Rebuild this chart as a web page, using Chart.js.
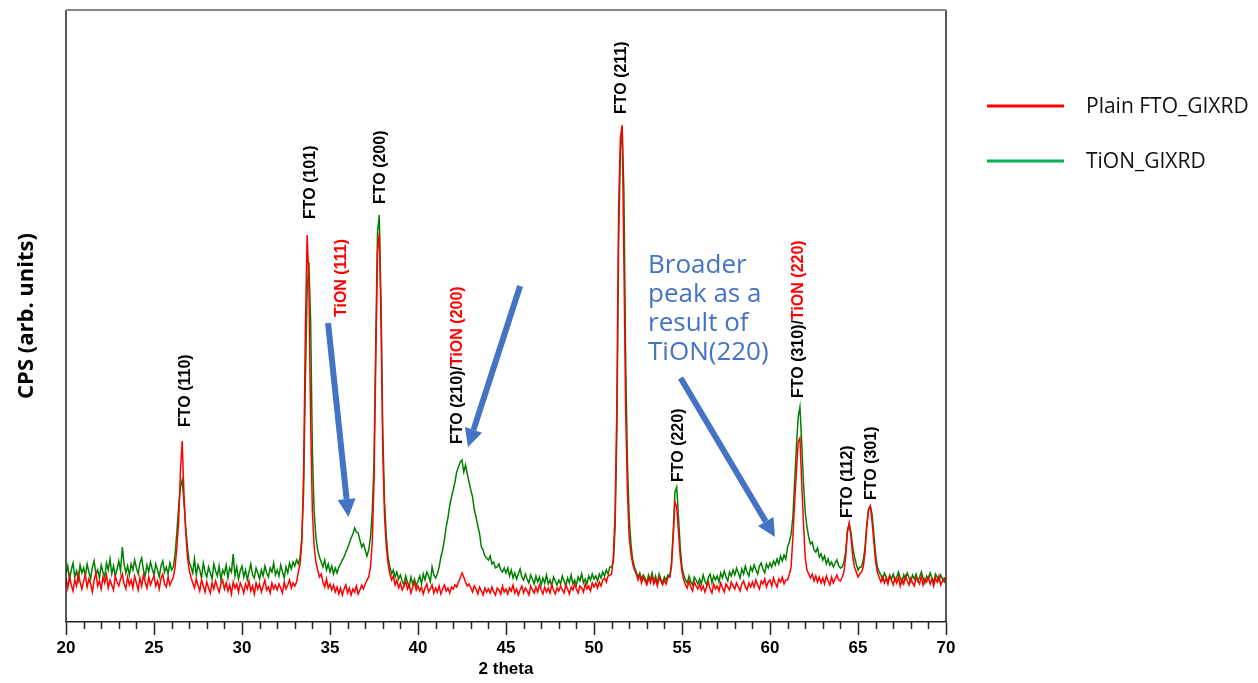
<!DOCTYPE html>
<html>
<head>
<meta charset="utf-8">
<script src="https://cdn.jsdelivr.net/npm/chart.js@4.4.1/dist/chart.umd.min.js"></script>
<style>
  html, body { margin: 0; padding: 0; background: #fff; }
  #xrd { display: block; }
</style>
</head>
<body>
<canvas id="xrd" width="1258" height="683"></canvas>
<script>
// 2 theta grid of the scan (0.1 deg step)
const twoTheta = Array.from({ length: 501 }, (_, i) => +(20 + i * 0.1).toFixed(1));

// intensities, one row per degree (arb. units)
const plainFto = [
  44, 34, 46, 37, 31, 42, 36, 48, 40, 33,
  41, 47, 35, 43, 38, 30, 42, 49, 36, 41,
  33, 45, 39, 47, 34, 42, 37, 32, 46, 40,
  36, 43, 48, 38, 33, 45, 37, 42, 34, 46,
  39, 32, 44, 36, 47, 40, 34, 45, 37, 42,
  46, 36, 41, 33, 44, 48, 38, 35, 45, 37,
  41, 45, 55, 75, 100, 150, 181, 130, 90, 65,
  52, 45, 39, 34, 43, 37, 31, 42, 36, 30,
  40, 34, 29, 39, 33, 41, 35, 30, 38, 42,
  33, 39, 31, 37, 28, 40, 34, 38, 30, 39,
  35, 29, 38, 33, 41, 31, 36, 28, 39, 33,
  38, 30, 36, 42, 32, 35, 29, 39, 33, 37,
  32, 38, 34, 29, 40, 33, 37, 42, 34, 39,
  36, 40, 50, 58, 80, 150, 290, 387, 340, 200,
  110, 75, 60, 52, 45, 48, 40, 35, 43, 34,
  38, 32, 37, 30, 35, 28, 34, 27, 33, 37,
  29, 34, 27, 33, 30, 36, 28, 32, 37, 33,
  38, 42, 45, 55, 80, 140, 260, 370, 389, 300,
  170, 105, 75, 58, 48, 42, 46, 37, 42, 34,
  39, 32, 36, 41, 33, 37, 29, 35, 40, 32,
  36, 31, 35, 28, 34, 38, 30, 33, 37, 29,
  34, 30, 36, 28, 33, 37, 31, 34, 29, 35,
  33, 37, 35, 40, 44, 49, 45, 40, 36, 38,
  34, 30, 36, 33, 28, 35, 31, 27, 34, 30,
  33, 29, 35, 30, 27, 34, 32, 28, 36, 30,
  33, 28, 34, 31, 37, 29, 33, 27, 32, 36,
  29, 34, 31, 27, 36, 32, 29, 35, 30, 37,
  32, 28, 35, 30, 34, 29, 37, 32, 28, 34,
  31, 36, 32, 29, 37, 33, 28, 35, 32, 38,
  33, 29, 36, 34, 30, 38, 33, 36, 31, 39,
  35, 39, 34, 40, 36, 42, 44, 40, 46, 47,
  48, 65, 110, 220, 415, 485, 497, 360, 210, 130,
  85, 68, 58, 52, 48, 42, 47, 39, 45, 41,
  37, 44, 39, 46, 38, 43, 36, 45, 41, 37,
  42, 38, 45, 45, 55, 85, 120, 115, 90, 65,
  50, 42, 37, 34, 41, 35, 31, 40, 36, 33,
  38, 32, 36, 30, 35, 40, 33, 29, 38, 33,
  36, 31, 39, 34, 30, 38, 35, 32, 40, 36,
  33, 39, 35, 31, 38, 41, 35, 32, 39, 35,
  40, 35, 42, 37, 33, 41, 38, 43, 35, 40,
  42, 36, 44, 39, 35, 43, 40, 45, 38, 42,
  42, 48, 55, 85, 120, 150, 180, 184, 140, 100,
  65, 52, 48, 44, 48, 41, 46, 40, 45, 39,
  44, 38, 46, 41, 37, 45, 39, 43, 47, 42,
  41, 45, 50, 65, 90, 99, 85, 65, 55, 50,
  45, 48, 50, 55, 70, 95, 112, 116, 100, 80,
  60, 50, 45, 40, 45, 39, 44, 38, 46, 42,
  37, 44, 39, 45, 36, 43, 38, 46, 41, 37,
  44, 39, 36, 45, 41, 38, 46, 37, 43, 40,
  45, 38, 43, 36, 44, 40, 46, 37, 41, 44,
  42
];

const tionFilm = [
  48, 56, 43, 52, 59, 45, 51, 42, 57, 49,
  54, 46, 58, 50, 43, 55, 61, 47, 52, 44,
  57, 50, 45, 59, 52, 63, 48, 56, 46, 53,
  61, 51, 75, 58, 49, 56, 47, 58, 52, 62,
  54, 48, 59, 64, 52, 46, 57, 50, 60, 53,
  47, 58, 52, 45, 56, 61, 50, 55, 48, 59,
  52, 55, 68, 90, 115, 135, 142, 120, 95, 75,
  60, 55, 49, 63, 47, 57, 52, 44, 59, 50,
  45, 55, 49, 43, 58, 51, 46, 56, 42, 52,
  48, 57, 44, 54, 50, 68, 46, 55, 43, 51,
  56, 45, 52, 42, 50, 58, 47, 44, 54, 49,
  43, 52, 46, 56, 49, 45, 54, 50, 59, 47,
  52, 46, 57, 50, 44, 55, 49, 59, 53, 60,
  56, 62, 58, 65, 85, 130, 240, 330, 360, 300,
  170, 110, 85, 72, 65, 60, 55, 62, 52, 58,
  50, 56, 48, 54, 49, 55, 58, 62, 65, 70,
  74, 79, 84, 88, 94, 90, 89, 82, 75, 78,
  72, 66, 72, 85, 110, 160, 280, 390, 407, 320,
  190, 120, 85, 65, 55, 48, 52, 45, 50, 43,
  47, 41, 37, 46, 40, 35, 45, 38, 43, 36,
  41, 46, 38, 48, 42, 50, 46, 40, 55, 47,
  44, 48, 55, 65, 72, 82, 95, 104, 116, 125,
  132, 140, 150, 155, 160, 162, 150, 157, 148, 140,
  132, 125, 112, 105, 96, 88, 75, 72, 66, 64,
  62, 66, 58, 60, 54, 55, 58, 52, 50, 54,
  49, 54, 46, 52, 44, 49, 43, 48, 53, 45,
  42, 48, 43, 39, 47, 43, 38, 46, 40, 45,
  37, 44, 39, 47, 38, 42, 36, 45, 41, 37,
  42, 38, 46, 41, 36, 44, 39, 47, 38, 42,
  37, 45, 41, 48, 39, 43, 38, 46, 42, 48,
  43, 46, 41, 48, 44, 50, 46, 52, 48, 55,
  55, 60, 95, 190, 380, 470, 495, 430, 260, 160,
  105, 78, 62, 55, 50, 45, 49, 43, 47, 44,
  39, 47, 42, 49, 40, 46, 38, 48, 43, 39,
  45, 42, 47, 45, 58, 90, 130, 135, 105, 75,
  55, 47, 42, 39, 46, 40, 37, 45, 42, 38,
  43, 38, 47, 41, 37, 45, 48, 39, 46, 42,
  46, 40, 49, 44, 51, 45, 41, 50, 46, 52,
  47, 54, 49, 44, 53, 48, 56, 50, 46, 55,
  51, 57, 52, 48, 56, 59, 53, 49, 58, 54,
  59, 55, 61, 57, 63, 58, 66, 61, 67, 63,
  75, 80, 88, 105, 140, 175, 205, 215, 180, 140,
  110, 95, 85, 78, 80, 72, 70, 74, 65, 68,
  62, 66, 58, 63, 57, 60, 55, 59, 62, 56,
  54, 55, 60, 70, 92, 98, 90, 75, 65, 58,
  52, 55, 55, 62, 75, 98, 113, 116, 108, 88,
  68, 55, 50, 47, 42, 49, 45, 40, 47, 43,
  48, 41, 45, 50, 44, 39, 47, 43, 49, 44,
  40, 47, 43, 48, 41, 45, 50, 44, 39, 46,
  43, 49, 44, 40, 48, 45, 41, 47, 43, 40,
  44
];

const seriesNames = ["Plain FTO_GIXRD", "TiON_GIXRD"];
const majorTicks = [20, 25, 30, 35, 40, 45, 50, 55, 60, 65, 70];

// peak names, anchored (in data units) at the bottom end of the rotated text
const peakLabels = [
  { theta: 26.82, cps: 195, parts: [["FTO (110)", "#000"]] },
  { theta: 33.92, cps: 403, parts: [["FTO (101)", "#000"]] },
  { theta: 35.68, cps: 305, parts: [["TiON (111)", "#ff0000"]] },
  { theta: 37.90, cps: 418, parts: [["FTO (200)", "#000"]] },
  { theta: 42.27, cps: 178, parts: [["FTO (210)/", "#000"], ["TiON (200)", "#ff0000"]] },
  { theta: 51.59, cps: 508, parts: [["FTO (211)", "#000"]] },
  { theta: 54.83, cps: 140, parts: [["FTO (220)", "#000"]] },
  { theta: 61.62, cps: 224, parts: [["FTO (310)/", "#000"], ["TiON (220)", "#ff0000"]] },
  { theta: 64.43, cps: 104, parts: [["FTO (112)", "#000"]] },
  { theta: 65.78, cps: 122, parts: [["FTO (301)", "#000"]] }
];

const arrows = [
  { from: [34.89, 299], to: [36.05, 105] },
  { from: [45.80, 336], to: [42.84, 175] },
  { from: [54.92, 244], to: [60.28, 85] }
];

const note = { theta: 53.07, cps: 356, lines: ["Broader", "peak as a", "result of", "TiON(220)"] };

const lineColors = ["#ff0000", "#008000"];
const legendColors = ["#ff0000", "#00b050"];
const noteBlue = "#4472c4";

function toPoints(values) {
  return values.map((v, i) => ({ x: twoTheta[i], y: v }));
}

// frame, minor ticks, peak names, arrows and the custom legend
const decorations = {
  id: "decorations",
  afterDatasetsDraw(chart) {
    const { ctx, chartArea: area, scales } = chart;
    const sx = scales.x, sy = scales.y;

    ctx.save();
    // frame
    ctx.lineWidth = 1.5;
    ctx.strokeStyle = "#222";
    ctx.beginPath();
    ctx.moveTo(area.left, area.bottom);
    ctx.lineTo(area.left, area.top);
    ctx.moveTo(area.right, area.top);
    ctx.lineTo(area.right, area.bottom);
    ctx.stroke();
    ctx.strokeStyle = "#888";
    ctx.lineWidth = 2;
    ctx.beginPath();
    ctx.moveTo(area.left, area.top);
    ctx.lineTo(area.right, area.top);
    ctx.stroke();

    // minor ticks every degree
    ctx.strokeStyle = "#222";
    ctx.lineWidth = 1.5;
    ctx.beginPath();
    for (let t = 21; t < 70; t++) {
      if (t % 5 === 0) continue;
      const px = Math.round(sx.getPixelForValue(t)) + 0.5;
      ctx.moveTo(px, area.bottom);
      ctx.lineTo(px, area.bottom + 7);
    }
    ctx.stroke();

    // rotated peak labels
    ctx.font = "bold 16px 'Liberation Sans', Arial, sans-serif";
    ctx.textBaseline = "middle";
    ctx.textAlign = "left";
    peakLabels.forEach(label => {
      ctx.save();
      ctx.translate(sx.getPixelForValue(label.theta), sy.getPixelForValue(label.cps));
      ctx.rotate(-Math.PI / 2);
      let offset = 0;
      label.parts.forEach(([text, color]) => {
        ctx.fillStyle = color;
        ctx.fillText(text, offset, 0);
        offset += ctx.measureText(text).width;
      });
      ctx.restore();
    });

    // arrows
    ctx.strokeStyle = noteBlue;
    ctx.fillStyle = noteBlue;
    arrows.forEach(a => {
      const x1 = sx.getPixelForValue(a.from[0]), y1 = sy.getPixelForValue(a.from[1]);
      const x2 = sx.getPixelForValue(a.to[0]), y2 = sy.getPixelForValue(a.to[1]);
      const ang = Math.atan2(y2 - y1, x2 - x1);
      const head = 18, half = 9;
      const bx = x2 - head * Math.cos(ang), by = y2 - head * Math.sin(ang);
      ctx.lineWidth = 6;
      ctx.beginPath();
      ctx.moveTo(x1, y1);
      ctx.lineTo(bx, by);
      ctx.stroke();
      ctx.beginPath();
      ctx.moveTo(x2, y2);
      ctx.lineTo(bx + half * Math.sin(ang), by - half * Math.cos(ang));
      ctx.lineTo(bx - half * Math.sin(ang), by + half * Math.cos(ang));
      ctx.closePath();
      ctx.fill();
    });

    // note text
    ctx.font = "26px 'Open Sans', sans-serif";
    ctx.fillStyle = noteBlue;
    const nx = sx.getPixelForValue(note.theta), ny = sy.getPixelForValue(note.cps);
    note.lines.forEach((line, i) => ctx.fillText(line, nx, ny + i * 29));

    // legend
    ctx.font = "21px 'Open Sans', sans-serif";
    ctx.fillStyle = "#111";
    seriesNames.forEach((name, i) => {
      const y = 106 + i * 55;
      ctx.strokeStyle = legendColors[i];
      ctx.lineWidth = 3;
      ctx.beginPath();
      ctx.moveTo(987, y);
      ctx.lineTo(1064, y);
      ctx.stroke();
      ctx.fillText(name, 1086, y + 1);
    });
    ctx.restore();
  }
};

new Chart(document.getElementById("xrd"), {
  type: "line",
  data: {
    datasets: [
      { label: seriesNames[0], data: toPoints(plainFto), borderColor: lineColors[0], borderWidth: 1.5 },
      { label: seriesNames[1], data: toPoints(tionFilm), borderColor: lineColors[1], borderWidth: 1.5 }
    ]
  },
  options: {
    responsive: false,
    animation: false,
    devicePixelRatio: 1,
    elements: { point: { radius: 0 }, line: { tension: 0 } },
    layout: { padding: { top: 10, right: 312, left: 0, bottom: 0 } },
    plugins: { legend: { display: false }, tooltip: { enabled: false } },
    scales: {
      x: {
        type: "linear",
        min: 20,
        max: 70,
        afterFit: scale => { scale.height = 61; },
        afterBuildTicks: scale => { scale.ticks = majorTicks.map(v => ({ value: v })); },
        grid: { drawOnChartArea: false, tickLength: 13, tickWidth: 1.5, tickColor: "#222" },
        border: { color: "#222", width: 1.5 },
        ticks: {
          padding: 3,
          color: "#000",
          font: { family: "'Liberation Sans', Arial, sans-serif", size: 17, weight: "bold" }
        },
        title: {
          display: true,
          text: "2 theta",
          color: "#000",
          padding: { top: 0, bottom: 3 },
          font: { family: "'Liberation Sans', Arial, sans-serif", size: 17, weight: "bold" }
        }
      },
      y: {
        min: 0,
        max: 612,
        afterFit: scale => { scale.width = 66; },
        grid: { display: false },
        border: { display: false },
        ticks: { display: false },
        title: {
          display: true,
          text: "CPS (arb. units)",
          color: "#000",
          padding: { top: 14, bottom: 0 },
          font: { family: "'Open Sans', sans-serif", size: 22, weight: "bold" }
        }
      }
    }
  },
  plugins: [decorations]
});
</script>
</body>
</html>
